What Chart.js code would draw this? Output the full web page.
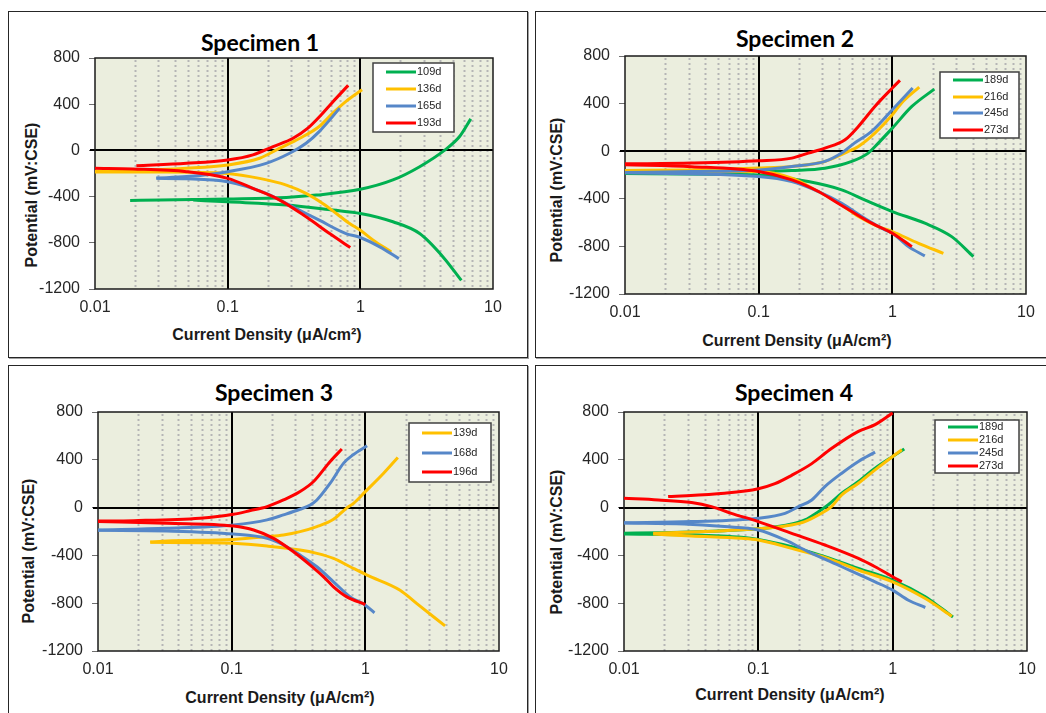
<!DOCTYPE html>
<html>
<head>
<meta charset="utf-8">
<script src="https://cdn.jsdelivr.net/npm/chart.js@4.4.1/dist/chart.umd.min.js"></script>
<style>
  body { margin: 0; background: #fff; }
  #page { position: relative; width: 1046px; height: 713px; overflow: hidden; font-family: "Liberation Sans", Arial, sans-serif; }
  .frame { position: absolute; box-sizing: border-box; border: 1px solid #262626; box-shadow: 1px 1px 0 #a0a0a0; background: #fff; }
  .ttl, .xt, .yt { position: absolute; white-space: nowrap; color: #000; transform: translate(-50%, -50%); }
  .ttl { font-family: Lato, "Open Sans", sans-serif; font-weight: bold; font-size: 23px; }
  .xt, .yt { font-weight: bold; font-size: 16px; color: #1a1a1a; }
  .yt { transform: translate(-50%, -50%) rotate(-90deg); }
  canvas { position: absolute; }
</style>
</head>
<body>
<div id="page"></div>
<script>
// Potentiodynamic polarization curves, four specimens

// Axis ticks and titles
const xTicks = [0.01, 0.1, 1, 10];
const xTickLabels = ["0.01", "0.1", "1", "10"];
const yTicks = [-1200, -800, -400, 0, 400, 800];
const yTickLabels = ["-1200", "-800", "-400", "0", "400", "800"];
const panelTitles = ["Specimen 1", "Specimen 2", "Specimen 3", "Specimen 4"];
const xTitle = "Current Density (μA/cm²)";
const yTitle = "Potential (mV:CSE)";

// Series labels per specimen (test age)
const ages1 = ["109d", "136d", "165d", "193d"];
const ages2 = ["189d", "216d", "245d", "273d"];
const ages3 = ["139d", "168d", "196d"];
const ages4 = ["189d", "216d", "245d", "273d"];

// [current density µA/cm², potential mV] - anodic and cathodic branches
// Specimen 1
const s1_109d_anod = [[0.0184,-433],[0.031,-430],[0.055,-426],[0.1,-421],[0.277,-407],[0.466,-387],[1.0,-337],[1.76,-256],[2.8,-141],[4.3,0],[5.6,120],[6.8,273]];
const s1_109d_cath = [[0.055,-430],[0.1,-445],[0.277,-473],[0.62,-517],[1.0,-546],[1.76,-618],[2.8,-720],[4.2,-922],[5.77,-1125]];
const s1_136d_anod = [[0.01,-180],[0.0193,-175],[0.049,-155],[0.1,-126],[0.174,-68],[0.247,19],[0.35,105],[0.49,207],[0.62,322],[0.78,424],[1.03,525]];
const s1_136d_cath = [[0.01,-186],[0.0345,-186],[0.1,-199],[0.174,-242],[0.277,-300],[0.39,-372],[0.52,-459],[0.66,-546],[0.83,-633],[1.0,-691],[1.25,-777],[1.71,-879]];
const s1_165d_anod = [[0.029,-240],[0.049,-227],[0.1,-184],[0.195,-112],[0.293,-25],[0.39,62],[0.49,163],[0.70,366]];
const s1_165d_cath = [[0.029,-242],[0.049,-245],[0.1,-271],[0.195,-372],[0.31,-488],[0.49,-604],[0.78,-720],[1.0,-754],[1.4,-835],[1.95,-937]];
const s1_193d_anod = [[0.0205,-133],[0.049,-112],[0.1,-83],[0.155,-39],[0.22,33],[0.311,105],[0.40,190],[0.50,300],[0.62,420],[0.81,563]];
const s1_193d_cath = [[0.01,-155],[0.0193,-161],[0.049,-184],[0.1,-242],[0.155,-329],[0.247,-430],[0.39,-575],[0.587,-720],[0.84,-841]];

// Specimen 2
const s2_189d_anod = [[0.01,-185],[0.0315,-179],[0.1,-171],[0.177,-162],[0.313,-143],[0.497,-86],[0.66,-16],[0.785,68],[1.0,194],[1.40,376],[2.06,522]];
const s2_189d_cath = [[0.01,-188],[0.1,-199],[0.235,-255],[0.418,-325],[0.62,-409],[1.0,-507],[1.75,-605],[2.78,-718],[4.04,-886]];
const s2_216d_anod = [[0.01,-162],[0.0315,-157],[0.1,-142],[0.177,-128],[0.313,-86],[0.469,-2],[0.557,40],[0.74,152],[1.0,306],[1.17,404],[1.59,539]];
const s2_216d_cath = [[0.01,-168],[0.1,-171],[0.177,-227],[0.28,-339],[0.418,-451],[0.557,-549],[0.785,-633],[1.0,-675],[1.57,-774],[2.41,-858]];
const s2_245d_anod = [[0.01,-179],[0.0315,-171],[0.1,-157],[0.177,-128],[0.313,-86],[0.418,-16],[0.52,68],[0.70,166],[1.0,348],[1.42,531]];
const s2_245d_cath = [[0.01,-182],[0.1,-213],[0.177,-255],[0.28,-339],[0.418,-437],[0.62,-563],[0.88,-661],[1.0,-689],[1.32,-802],[1.75,-880]];
const s2_273d_anod = [[0.01,-106],[0.0315,-100],[0.1,-81],[0.177,-58],[0.235,-16],[0.313,26],[0.443,96],[0.557,208],[0.74,376],[1.0,531],[1.14,595]];
const s2_273d_cath = [[0.01,-114],[0.0315,-130],[0.1,-171],[0.177,-241],[0.28,-339],[0.373,-423],[0.497,-507],[0.70,-605],[1.0,-689],[1.40,-802]];

// Specimen 3
const s3_139d_anod = [[0.0246,-288],[0.0328,-280],[0.103,-266],[0.184,-243],[0.244,-229],[0.325,-201],[0.434,-159],[0.578,-98],[0.72,-6],[0.816,36],[1.0,134],[1.37,288],[1.75,420]];
const s3_139d_cath = [[0.0246,-290],[0.06,-294],[0.103,-299],[0.184,-322],[0.325,-355],[0.434,-383],[0.578,-425],[0.77,-495],[1.03,-565],[1.82,-691],[2.43,-803],[3.95,-990]];
const s3_168d_anod = [[0.01,-187],[0.0328,-173],[0.103,-145],[0.184,-103],[0.244,-61],[0.325,-14],[0.387,22],[0.434,64],[0.546,204],[0.688,372],[0.81,442],[1.03,517]];
const s3_168d_cath = [[0.01,-190],[0.0328,-196],[0.103,-221],[0.184,-257],[0.244,-313],[0.325,-397],[0.434,-495],[0.578,-621],[0.77,-747],[1.0,-817],[1.17,-881]];
const s3_196d_anod = [[0.01,-112],[0.0185,-109],[0.058,-89],[0.103,-56],[0.138,-25],[0.184,8],[0.244,64],[0.325,134],[0.41,218],[0.546,386],[0.667,490]];
const s3_196d_cath = [[0.01,-117],[0.0328,-131],[0.103,-154],[0.146,-187],[0.206,-257],[0.29,-369],[0.387,-481],[0.487,-579],[0.578,-663],[0.727,-747],[1.0,-811]];

// Specimen 4
const s4_189d_anod = [[0.01,-215],[0.018,-210],[0.056,-193],[0.112,-173],[0.177,-137],[0.222,-103],[0.28,-34],[0.33,22],[0.418,120],[0.556,218],[0.74,330],[1.0,428],[1.22,490]];
const s4_189d_cath = [[0.01,-221],[0.0318,-229],[0.075,-249],[0.1,-266],[0.177,-327],[0.313,-411],[0.556,-509],[1.0,-607],[1.75,-747],[2.32,-845],[2.81,-915]];
const s4_216d_anod = [[0.0165,-215],[0.056,-193],[0.112,-173],[0.177,-145],[0.222,-117],[0.28,-62],[0.35,8],[0.418,106],[0.556,204],[0.74,316],[1.0,428],[1.17,484]];
const s4_216d_cath = [[0.0165,-221],[0.0318,-238],[0.075,-257],[0.1,-271],[0.177,-341],[0.313,-417],[0.556,-523],[1.0,-621],[1.75,-761],[2.76,-909]];
const s4_245d_anod = [[0.01,-126],[0.0318,-117],[0.1,-89],[0.158,-48],[0.199,8],[0.25,64],[0.313,176],[0.418,288],[0.556,386],[0.74,464]];
const s4_245d_cath = [[0.01,-128],[0.028,-137],[0.056,-159],[0.1,-187],[0.158,-271],[0.235,-369],[0.418,-495],[0.74,-621],[1.0,-691],[1.31,-775],[1.75,-836]];
const s4_273d_anod = [[0.0213,92],[0.056,120],[0.1,158],[0.133,200],[0.177,270],[0.25,368],[0.35,494],[0.556,638],[0.74,694],[1.0,792]];
const s4_273d_cath = [[0.01,78],[0.018,64],[0.0318,42],[0.0448,8],[0.063,-48],[0.1,-117],[0.177,-215],[0.313,-313],[0.556,-425],[0.74,-495],[1.0,-579],[1.17,-621]];

// Colours
const GREEN = "#00b050", YELLOW = "#ffc000", BLUE = "#5687c8", RED = "#ff0000";
const PLOT_BG = "#ebeede";
const FONT = '"Liberation Sans", Arial, sans-serif';

// Layout of each panel on the page (frame, plot area, titles, legend box)
const panels = [
    { frame: [8, 11, 520, 347], plot: [95, 58, 493, 289], title: [260, 42], xt: [267, 335], yt: [32, 195], legend: [373, 63, 81, 69],
      series: [
        { label: ages1[0], color: GREEN, anod: s1_109d_anod, cath: s1_109d_cath },
        { label: ages1[1], color: YELLOW, anod: s1_136d_anod, cath: s1_136d_cath },
        { label: ages1[2], color: BLUE, anod: s1_165d_anod, cath: s1_165d_cath },
        { label: ages1[3], color: RED, anod: s1_193d_anod, cath: s1_193d_cath },
      ] },
    { frame: [535, 11, 520, 347], plot: [625, 56, 1026, 294], title: [795, 38], xt: [797, 341], yt: [557, 190], legend: [940, 72, 79, 66],
      series: [
        { label: ages2[0], color: GREEN, anod: s2_189d_anod, cath: s2_189d_cath },
        { label: ages2[1], color: YELLOW, anod: s2_216d_anod, cath: s2_216d_cath },
        { label: ages2[2], color: BLUE, anod: s2_245d_anod, cath: s2_245d_cath },
        { label: ages2[3], color: RED, anod: s2_273d_anod, cath: s2_273d_cath },
      ] },
    { frame: [8, 365, 520, 360], plot: [98, 412, 499, 651], title: [274, 392], xt: [280, 698], yt: [29, 551], legend: [409, 423, 82, 59],
      series: [
        { label: ages3[0], color: YELLOW, anod: s3_139d_anod, cath: s3_139d_cath },
        { label: ages3[1], color: BLUE, anod: s3_168d_anod, cath: s3_168d_cath },
        { label: ages3[2], color: RED, anod: s3_196d_anod, cath: s3_196d_cath },
      ] },
    { frame: [535, 365, 520, 360], plot: [624, 412, 1027, 651], title: [794, 392], xt: [790, 695], yt: [557, 542], legend: [935, 420, 84, 53],
      series: [
        { label: ages4[0], color: GREEN, anod: s4_189d_anod, cath: s4_189d_cath },
        { label: ages4[1], color: YELLOW, anod: s4_216d_anod, cath: s4_216d_cath },
        { label: ages4[2], color: BLUE, anod: s4_245d_anod, cath: s4_245d_cath },
        { label: ages4[3], color: RED, anod: s4_273d_anod, cath: s4_273d_cath },
      ] },
];

const page = document.getElementById("page");

function addDiv(cls, x, y, text) {
    const d = document.createElement("div");
    d.className = cls;
    d.style.left = x + "px";
    d.style.top = y + "px";
    d.textContent = text;
    page.appendChild(d);
    return d;
}

// Draws plot background, dotted minor grid, major lines, border and the boxed legend
function decorPlugin(panel, offX, offY) {
    return {
        id: "decor",
        beforeDatasetsDraw(chart) {
            const { ctx, chartArea: a, scales: { x, y } } = chart;
            ctx.save();
            ctx.fillStyle = PLOT_BG;
            ctx.fillRect(a.left, a.top, a.width, a.height);

            // minor log gridlines (2..9 of each decade)
            ctx.strokeStyle = "#b5b5b5";
            ctx.lineWidth = 2;
            ctx.setLineDash([2, 3]);
            for (let d = 0.01; d < 5; d *= 10) {
                for (let m = 2; m <= 9; m++) {
                    const px = Math.round(x.getPixelForValue(m * d)) + 0.5;
                    ctx.beginPath();
                    ctx.moveTo(px, a.top + 2);
                    ctx.lineTo(px, a.bottom);
                    ctx.stroke();
                }
            }
            ctx.setLineDash([]);

            // major decades and the zero line
            ctx.strokeStyle = "#000";
            ctx.lineWidth = 2;
            [0.1, 1].forEach((v) => {
                const px = Math.round(x.getPixelForValue(v));
                ctx.beginPath();
                ctx.moveTo(px, a.top);
                ctx.lineTo(px, a.bottom);
                ctx.stroke();
            });
            const py0 = Math.round(y.getPixelForValue(0));
            ctx.beginPath();
            ctx.moveTo(a.left - 5, py0);
            ctx.lineTo(a.right, py0);
            ctx.stroke();

            // plot frame
            ctx.strokeStyle = "#1a1a1a";
            ctx.lineWidth = 1.5;
            ctx.strokeRect(a.left, a.top, a.width, a.height);
            ctx.restore();
        },
        afterDatasetsDraw(chart) {
            const { ctx } = chart;
            const [lx, ly, lw, lh] = panel.legend;
            const bx = lx - offX, by = ly - offY;
            ctx.save();
            ctx.fillStyle = "#fff";
            ctx.fillRect(bx, by, lw, lh);
            ctx.strokeStyle = "#404040";
            ctx.lineWidth = 1.5;
            ctx.strokeRect(bx, by, lw, lh);
            const step = lh / panel.series.length;
            ctx.font = "11px " + FONT;
            ctx.textBaseline = "middle";
            panel.series.forEach((s, i) => {
                const cy = Math.round(by + step * (i + 0.5));
                ctx.strokeStyle = s.color;
                ctx.lineWidth = 3;
                ctx.beginPath();
                ctx.moveTo(bx + 13, cy);
                ctx.lineTo(bx + 43, cy);
                ctx.stroke();
                ctx.fillStyle = "#262626";
                ctx.fillText(s.label, bx + 44, cy);
            });
            ctx.restore();
        },
    };
}

panels.forEach((panel, p) => {
    const [fx, fy, fw, fh] = panel.frame;
    const fr = document.createElement("div");
    fr.className = "frame";
    Object.assign(fr.style, { left: fx + "px", top: fy + "px", width: fw + "px", height: fh + "px" });
    page.appendChild(fr);

    addDiv("ttl", panel.title[0], panel.title[1], panelTitles[p]);
    addDiv("xt", panel.xt[0], panel.xt[1], xTitle);
    addDiv("yt", panel.yt[0], panel.yt[1], yTitle);

    const [pl, pt, pr, pb] = panel.plot;
    const padL = 66, padT = 20, padR = 30, padB = 40;
    const yAxisW = 62, xAxisH = 34;
    const cv = document.createElement("canvas");
    const cx = pl - padL, cy = pt - padT;
    cv.width = pr - pl + padL + padR;
    cv.height = pb - pt + padT + padB;
    Object.assign(cv.style, { left: cx + "px", top: cy + "px", width: cv.width + "px", height: cv.height + "px" });
    page.appendChild(cv);

    const n = panel.series.length;
    const datasets = [];
    panel.series.forEach((s, i) => {
        [s.cath, s.anod].forEach((pts) => {
            datasets.push({
                label: s.label,
                data: pts.map(([x, y]) => ({ x, y })),
                borderColor: s.color,
                backgroundColor: s.color,
                borderWidth: 3,
                pointRadius: 0,
                fill: false,
                cubicInterpolationMode: "monotone",
                order: n - i,
            });
        });
    });

    new Chart(cv.getContext("2d"), {
        type: "line",
        data: { datasets },
        options: {
            responsive: false,
            animation: false,
            devicePixelRatio: 1,
            layout: { padding: { left: padL - yAxisW, top: padT, right: padR, bottom: padB - xAxisH } },
            plugins: { legend: { display: false }, tooltip: { enabled: false }, title: { display: false } },
            events: [],
            scales: {
                x: {
                    type: "logarithmic",
                    min: 0.01,
                    max: 10,
                    afterBuildTicks: (s) => { s.ticks = xTicks.map((v) => ({ value: v })); },
                    afterFit: (s) => { s.height = xAxisH; },
                    ticks: {
                        callback: (v, i) => xTickLabels[i],
                        font: { family: FONT, size: 16 },
                        color: "#262626",
                        padding: 9,
                        maxRotation: 0,
                        autoSkip: false,
                    },
                    grid: { display: false, drawTicks: false },
                    border: { display: false },
                },
                y: {
                    type: "linear",
                    min: -1200,
                    max: 800,
                    afterBuildTicks: (s) => { s.ticks = yTicks.map((v) => ({ value: v })); },
                    afterFit: (s) => { s.width = yAxisW; },
                    ticks: {
                        callback: (v, i) => yTickLabels[i],
                        font: { family: FONT, size: 16 },
                        color: "#262626",
                        padding: 9,
                    },
                    grid: { drawOnChartArea: false, drawTicks: true, tickLength: 6, color: "#6f6f6f" },
                    border: { display: false },
                },
            },
        },
        plugins: [decorPlugin(panel, cx, cy)],
    });
});
</script>
</body>
</html>
